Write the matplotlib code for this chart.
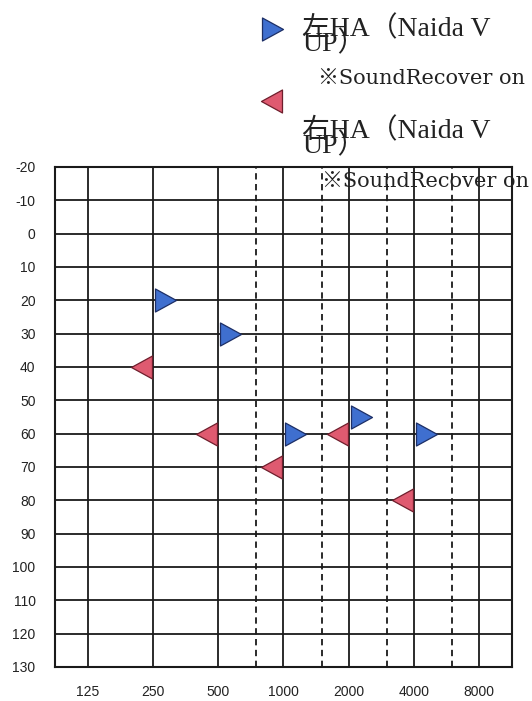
import numpy as np
import matplotlib
matplotlib.use('Agg')
import matplotlib.pyplot as plt
from matplotlib.path import Path

# audiogram values (aided thresholds)
freqs = [125, 250, 500, 1000, 2000, 4000, 8000]
half_freqs = [750, 1500, 3000, 6000]
db_ticks = list(range(-20, 131, 10))

left_freq = [250, 500, 1000, 2000, 4000]
left_db = [20, 30, 60, 55, 60]
right_freq = [250, 500, 1000, 2000, 4000]
right_db = [40, 60, 70, 60, 80]

label_left = '左HA（Naida V'
label_right = '右HA（Naida V'
label_up = 'UP）'
label_sr = '※SoundRecover on'

W, H = 532, 701
fig = plt.figure(figsize=(W / 100, H / 100), dpi=100)
ax = fig.add_axes([55 / W, 1 - 667 / H, 457 / W, 500 / H])

blue_face, blue_edge = '#3f6fcf', '#1d2f66'
red_face, red_edge = '#df5a70', '#6e1e2c'


def tri_marker(verts):
    # custom triangle marker, size in points so that the path keeps its pixel size
    p = Path(verts + [verts[0]], [Path.MOVETO, Path.LINETO, Path.LINETO, Path.CLOSEPOLY])
    ms = 2 * np.max(np.abs(verts)) * 72 / 100
    return p, ms


m_right, ms_right = tri_marker([(2, -11.5), (2, 11.5), (23, 0)])
m_left, ms_left = tri_marker([(-1, -11.5), (-1, 11.5), (-22, 0)])

ax.set_xscale('log', base=2)
ax.set_xlim(125 / 2 ** 0.5, 8000 * 2 ** 0.5)
ax.set_ylim(130, -20)

for f in freqs:
    ax.axvline(f, color='#1a1a1a', lw=1.3, zorder=1)
for f in half_freqs:
    ax.axvline(f, color='#1a1a1a', lw=1.3, ls=(0, (3.5, 2.5)), zorder=1)
for d in db_ticks:
    ax.axhline(d, color='#1a1a1a', lw=1.3, zorder=1)

ax.plot(right_freq, right_db, ls='none', marker=m_left, ms=ms_left,
        mfc=red_face, mec=red_edge, mew=0.9, zorder=3)
ax.plot(left_freq, left_db, ls='none', marker=m_right, ms=ms_right,
        mfc=blue_face, mec=blue_edge, mew=0.9, zorder=3)

ax.set_xticks(freqs)
ax.set_xticklabels([str(f) for f in freqs])
ax.xaxis.set_minor_locator(matplotlib.ticker.NullLocator())
ax.set_yticks(db_ticks)
ax.set_yticklabels([str(d) for d in db_ticks])
ax.tick_params(length=0, labelsize=10, colors='#222222')
ax.tick_params(axis='x', pad=13)
ax.tick_params(axis='y', pad=14)
for lab in ax.get_xticklabels() + ax.get_yticklabels():
    lab.set_family(['Liberation Sans Narrow', 'Liberation Sans', 'DejaVu Sans'])
for s in ax.spines.values():
    s.set_linewidth(1.5)
    s.set_color('#1a1a1a')

# legend block at the top
serif = ['Liberation Serif', 'Noto Sans CJK JP', 'DejaVu Serif']
serif_wide = ['DejaVu Serif', 'Noto Sans CJK JP']


def fx(px):
    return px / W


def fy(py):
    return 1 - py / H


fig.lines.append(plt.Line2D([fx(260)], [fy(29)], transform=fig.transFigure, ls='none',
                            marker=m_right, ms=ms_right, mfc=blue_face, mec=blue_edge, mew=0.9))
fig.lines.append(plt.Line2D([fx(283)], [fy(101)], transform=fig.transFigure, ls='none',
                            marker=m_left, ms=ms_left, mfc=red_face, mec=red_edge, mew=0.9))

fs_big, fs_small = 20, 15
fig.text(fx(302), fy(36), label_left, fontsize=fs_big, family=serif, va='baseline', color='#222222')
fig.text(fx(302), fy(51), label_up, fontsize=fs_big, family=serif, va='baseline', color='#222222')
fig.text(fx(318), fy(84), label_sr, fontsize=fs_small, family=serif_wide, va='baseline', color='#222222')
fig.text(fx(302), fy(138), label_right, fontsize=fs_big, family=serif, va='baseline', color='#222222')
fig.text(fx(302), fy(153), label_up, fontsize=fs_big, family=serif, va='baseline', color='#222222')
fig.text(fx(322), fy(187), label_sr, fontsize=fs_small, family=serif_wide, va='baseline', color='#222222')

fig.savefig('out.png', dpi=100)
